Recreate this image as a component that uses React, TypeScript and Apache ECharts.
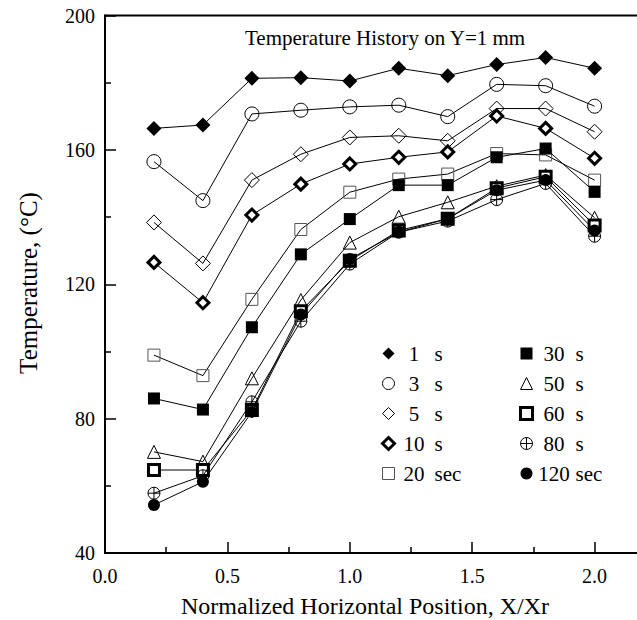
import React, { useEffect, useRef } from "react";
import * as echarts from "echarts";

const xs = [0.2, 0.4, 0.6, 0.8, 1.0, 1.2, 1.4, 1.6, 1.8, 2.0];
const t1 = [166.4, 167.4, 181.3, 181.5, 180.5, 184.3, 182.1, 185.4, 187.5, 184.3];
const t3 = [156.5, 144.9, 170.7, 171.8, 172.8, 173.3, 169.9, 179.5, 179.1, 173.0];
const t5 = [138.4, 126.2, 151.0, 158.7, 163.7, 164.2, 162.7, 172.3, 172.3, 165.4];
const t10 = [126.5, 114.5, 140.6, 149.8, 155.8, 157.8, 159.4, 170.1, 166.4, 157.5];
const t20 = [98.9, 92.8, 115.5, 136.3, 147.4, 151.3, 152.8, 158.9, 158.5, 151.0];
const t30 = [86.0, 82.7, 107.2, 128.9, 139.4, 149.5, 149.5, 157.8, 160.4, 147.5];
const t50 = [70.1, 67.2, 92.0, 115.3, 132.4, 140.1, 144.4, 149.2, 152.5, 139.8];
const t60 = [64.7, 64.7, 82.6, 112.0, 127.0, 136.0, 139.5, 148.6, 152.0, 137.5];
const t80 = [57.8, 63.0, 85.0, 109.0, 126.0, 135.5, 138.8, 145.2, 150.0, 134.3];
const t120 = [54.3, 61.2, 82.0, 111.0, 127.5, 135.5, 139.5, 148.0, 151.0, 136.0];

const leftNames = ["1 s", "3 s", "5 s", "10 s", "20 sec"];
const rightNames = ["30 s", "50 s", "60 s", "80 s", "120 sec"];

const yTicks = [40, 80, 120, 160, 200];
const xTicks = [0, 0.5, 1.0, 1.5, 2.0];

const FONT = "Liberation Serif";
const crossCircle =
  "path://M0,-10 A10,10 0 1,1 0,10 A10,10 0 1,1 0,-10 Z M0,-10 L0,10 M-10,0 L10,0";

type Sty = { symbol: string; size: number; fill: string; bw: number; stroke?: string };
const styles: Sty[] = [
  { symbol: "diamond", size: 15, fill: "#000", bw: 0 },
  { symbol: "circle", size: 14, fill: "rgba(0,0,0,0)", bw: 1 },
  { symbol: "diamond", size: 15, fill: "rgba(0,0,0,0)", bw: 1 },
  { symbol: "diamond", size: 12, fill: "#fff", bw: 3 },
  { symbol: "rect", size: 12, fill: "rgba(0,0,0,0)", bw: 1, stroke: "#555" },
  { symbol: "rect", size: 12, fill: "#000", bw: 0 },
  { symbol: "triangle", size: 13, fill: "rgba(0,0,0,0)", bw: 1 },
  { symbol: "rect", size: 11, fill: "#fff", bw: 3 },
  { symbol: crossCircle, size: 12, fill: "rgba(0,0,0,0)", bw: 1 },
  { symbol: "circle", size: 12, fill: "#000", bw: 0 },
];

const allSeries = [t1, t3, t5, t10, t20, t30, t50, t60, t80, t120];
const allNames = [...leftNames, ...rightNames];

export default function App() {
  const ref = useRef<HTMLDivElement>(null);
  useEffect(() => {
    if (!ref.current) return;
    const chart = echarts.init(ref.current, undefined, { renderer: "svg" });
    const itemStyleFor = (i: number) => {
      const s = styles[i];
      return {
        color: s.fill,
        borderColor: s.stroke || "#000",
        borderWidth: s.bw,
      };
    };
    const series = allSeries.map((vals, i) => {
      const s = styles[i];
      return {
        name: allNames[i],
        type: "line",
        data: xs.map((x, j) => [x, vals[j]]),
        symbol: s.symbol,
        symbolSize: s.size,
        showSymbol: true,
        lineStyle: { color: "#000", width: 1 },
        itemStyle: itemStyleFor(i),
        z: 2 + i,
      };
    });
    const legendCommon = (numW: number, pad: number) => ({
      orient: "vertical",
      itemWidth: 12,
      itemHeight: 12,
      itemGap: 9,
      lineStyle: { opacity: 0 },
      textStyle: {
        fontFamily: FONT,
        fontSize: 21,
        color: "#000",
        lineHeight: 20,
        rich: {
          n: { fontFamily: FONT, fontSize: 21, width: numW, align: "right", lineHeight: 20 },
          u: { fontFamily: FONT, fontSize: 21, padding: [0, 0, 0, pad], lineHeight: 20 },
        },
      },
      formatter: (name: string) => {
        const parts = name.split(" ");
        return `{n|${parts[0]}}{u|${parts[1]}}`;
      },
    });
    const legendItem = (n: string, i: number) => ({
      name: n,
      icon: styles[i].symbol,
      itemStyle: itemStyleFor(i),
    });
    chart.setOption({
      animation: false,
      backgroundColor: "#fff",
      title: {
        text: "Temperature History on Y=1 mm",
        left: 240,
        top: 22,
        textStyle: { fontFamily: FONT, fontSize: 21, fontWeight: "normal", color: "#000" },
      },
      grid: {
        left: 105,
        top: 15.5,
        width: 613,
        height: 537.5,
        show: true,
        borderColor: "#000",
        borderWidth: 2,
      },
      xAxis: {
        type: "value",
        min: 0,
        max: 2.5,
        interval: 0.5,
        axisLine: { show: true, onZero: false, lineStyle: { color: "#000", width: 2 } },
        axisTick: { show: true, inside: true, length: 11, lineStyle: { color: "#000", width: 1.5 } },
        minorTick: { show: true, splitNumber: 2, length: 6, lineStyle: { color: "#000", width: 1.5 } },
        splitLine: { show: false },
        axisLabel: {
          fontFamily: FONT,
          fontSize: 20,
          color: "#000",
          margin: 13,
          formatter: (v: number) => (xTicks.includes(v) ? v.toFixed(1) : ""),
        },
      },
      yAxis: {
        type: "value",
        min: 40,
        max: 200,
        interval: 40,
        axisLine: { show: true, lineStyle: { color: "#000", width: 2 } },
        axisTick: { show: true, inside: true, length: 11, lineStyle: { color: "#000", width: 1.5 } },
        minorTick: { show: true, splitNumber: 2, length: 6, lineStyle: { color: "#000", width: 1.5 } },
        splitLine: { show: false },
        axisLabel: {
          fontFamily: FONT,
          fontSize: 20,
          color: "#000",
          margin: 10,
          formatter: (v: number) => (yTicks.includes(v) ? String(v) : ""),
        },
      },
      legend: [
        {
          ...legendCommon(29, 6),
          left: 376,
          top: 338,
          data: leftNames.map((n, i) => legendItem(n, i)),
        },
        {
          ...legendCommon(33, 5),
          left: 514,
          top: 338,
          data: rightNames.map((n, i) => legendItem(n, i + 5)),
        },
      ],
      graphic: [
        {
          type: "text",
          x: 365,
          y: 606,
          style: {
            text: "Normalized Horizontal Position, X/Xr",
            fontFamily: FONT,
            fontSize: 24,
            fill: "#000",
            align: "center",
            verticalAlign: "middle",
          },
        },
        {
          type: "text",
          x: 28,
          y: 283,
          rotation: Math.PI / 2,
          style: {
            text: "Temperature, (°C)",
            fontFamily: FONT,
            fontSize: 25,
            fill: "#000",
            align: "center",
            verticalAlign: "middle",
          },
        },
      ],
      series,
    });
    return () => chart.dispose();
  }, []);
  return (
    <div
      style={{
        position: "fixed",
        left: 0,
        top: 0,
        width: 637,
        height: 620,
        overflow: "hidden",
        background: "#fff",
      }}
    >
      <div ref={ref} style={{ width: 720, height: 620 }} />
    </div>
  );
}
